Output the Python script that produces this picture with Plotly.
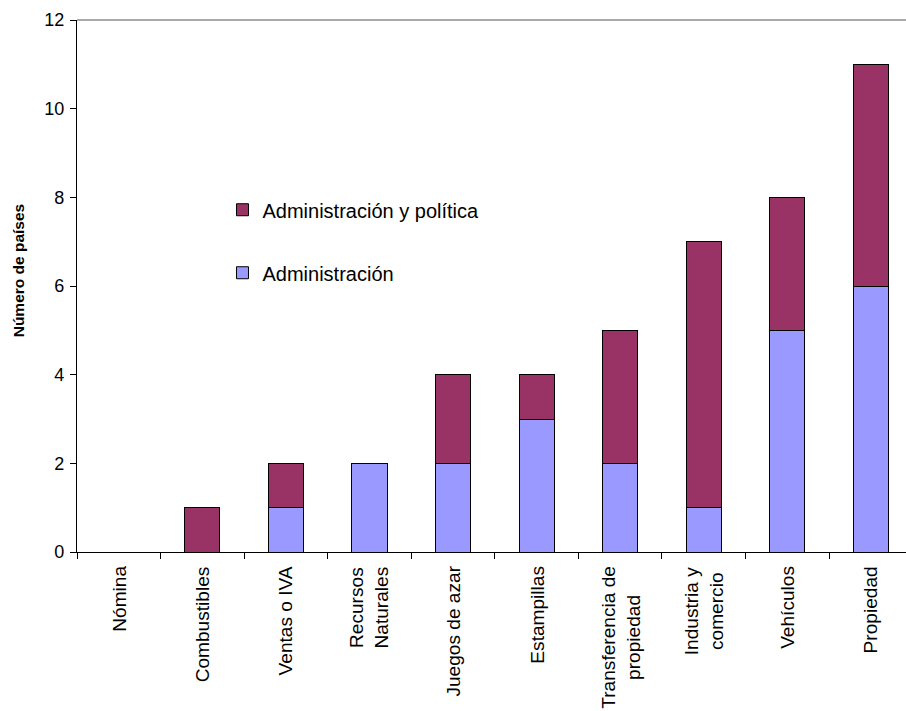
import plotly.graph_objects as go

categories = ["Nómina", "Combustibles", "Ventas o IVA", "Recursos<br>Naturales",
              "Juegos de azar", "Estampillas", "Transferencia de<br>propiedad",
              "Industria y<br>comercio", "Vehículos", "Propiedad"]
cat_keys = ["c%d" % i for i in range(len(categories))]
administracion = [0, 0, 1, 2, 2, 3, 2, 1, 5, 6]
adm_politica = [0, 1, 1, 0, 2, 1, 3, 6, 3, 5]
y_ticks = [0, 2, 4, 6, 8, 10, 12]

FONT = "Liberation Sans, Arial, sans-serif"

def nz(vals):
    return [v if v else None for v in vals]

fig = go.Figure()
fig.add_trace(go.Bar(
    x=cat_keys, y=nz(administracion), name="Administración",
    marker=dict(color="#9999FF", line=dict(color="black", width=1)),
    width=0.42, legendgroup="b", legendrank=2))
fig.add_trace(go.Bar(
    x=cat_keys, y=nz(adm_politica), name="Administración y política",
    marker=dict(color="#993366", line=dict(color="black", width=1)),
    width=0.42, legendgroup="a", legendrank=1))

for k, lab in zip(cat_keys, categories):
    fig.add_annotation(x=k, xref="x", y=0, yref="paper", yshift=-12,
                       text=lab, textangle=-90, showarrow=False,
                       xanchor="center", yanchor="top", align="center",
                       font=dict(family=FONT, size=19.1, color="black"))

fig.add_annotation(x=0, xref="paper", xshift=-59, y=(551.7 - 270) / 532.0, yref="paper",
                   text="<b>Número de países</b>", textangle=-90, showarrow=False,
                   xanchor="center", yanchor="middle",
                   font=dict(family=FONT, size=15.5, color="black"))

fig.add_shape(type="line", xref="paper", yref="paper", x0=0, x1=1, y0=1, y1=1,
              line=dict(color="#8c8c8c", width=1.5))

fig.update_layout(
    width=906, height=711,
    margin=dict(l=77, r=0, t=20, b=159),
    barmode="stack",
    plot_bgcolor="white", paper_bgcolor="white",
    font=dict(family=FONT, size=19, color="black"),
    showlegend=True,
    legend=dict(x=0.1755, y=0.68, xanchor="left", yanchor="top",
                traceorder="grouped", tracegroupgap=34,
                bgcolor="rgba(0,0,0,0)", font=dict(family=FONT, size=20)),
    xaxis=dict(type="category", range=[-0.5, 9.42], showticklabels=False,
               ticks="outside", tickson="boundaries", ticklen=6, tickcolor="black",
               showline=True, linecolor="black", linewidth=1.3,
               showgrid=False, zeroline=False, fixedrange=True),
    yaxis=dict(range=[0, 12], tickvals=y_ticks, ticks="outside", ticklen=6,
               tickcolor="black", showline=True, linecolor="black", linewidth=1.3,
               showgrid=False, zeroline=False, tickfont=dict(family=FONT, size=18),
               ticklabelstandoff=2),
)

fig.write_html("out.html")
